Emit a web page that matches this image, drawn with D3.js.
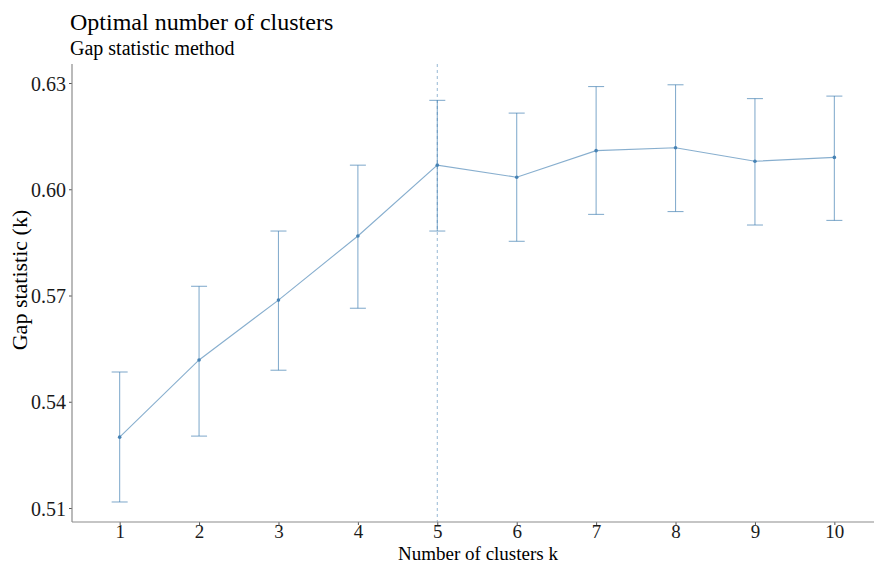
<!DOCTYPE html>
<html>
<head>
<meta charset="utf-8">
<script src="https://cdn.jsdelivr.net/npm/d3@7"></script>
<style>
  body { margin: 0; background: #fff; }
  svg { display: block; font-family: "Liberation Serif", "Times New Roman", serif; }
</style>
</head>
<body>
<svg id="chart" width="874" height="564"></svg>
<script>
// Gap statistic per number of clusters, with standard-error bounds
const clusters = [1, 2, 3, 4, 5, 6, 7, 8, 9, 10];
const gap      = [0.5300, 0.5518, 0.5687, 0.5868, 0.6068, 0.6034, 0.6109, 0.6117, 0.6079, 0.6090];
const gapLow   = [0.5117, 0.5303, 0.5489, 0.5664, 0.5882, 0.5853, 0.5929, 0.5937, 0.5899, 0.5912];
const gapHigh  = [0.5484, 0.5726, 0.5882, 0.6068, 0.6251, 0.6215, 0.6290, 0.6295, 0.6256, 0.6263];
const yTicks   = [0.51, 0.54, 0.57, 0.60, 0.63];
const optimalK = 5;

const svg = d3.select("#chart");
const color = "#4682B4";

const x = d3.scaleLinear().domain([0.4, 10.6]).range([72, 882]);
const y = d3.scaleLinear().domain([0.51, 0.63]).range([508, 83]);
const panelTop = 64, panelBottom = 522;

// Titles
svg.append("text").attr("x", 70).attr("y", 30)
  .attr("font-size", 24).attr("fill", "#000").text("Optimal number of clusters");
svg.append("text").attr("x", 70).attr("y", 55)
  .attr("font-size", 20).attr("fill", "#000").text("Gap statistic method");

// Optimal k marker
svg.append("line")
  .attr("x1", x(optimalK)).attr("x2", x(optimalK))
  .attr("y1", panelTop).attr("y2", panelBottom)
  .attr("stroke", color).attr("stroke-opacity", 0.7)
  .attr("stroke-width", 0.8).attr("stroke-dasharray", "3,3");

// Error bars
const capHalf = 8;
const bars = svg.append("g").attr("stroke", color).attr("stroke-opacity", 0.65).attr("stroke-width", 1.1);
clusters.forEach((k, i) => {
  const cx = x(k);
  bars.append("line").attr("x1", cx).attr("x2", cx).attr("y1", y(gapLow[i])).attr("y2", y(gapHigh[i]));
  bars.append("line").attr("x1", cx - capHalf).attr("x2", cx + capHalf).attr("y1", y(gapLow[i])).attr("y2", y(gapLow[i]));
  bars.append("line").attr("x1", cx - capHalf).attr("x2", cx + capHalf).attr("y1", y(gapHigh[i])).attr("y2", y(gapHigh[i]));
});

// Gap line and points
const line = d3.line().x((d, i) => x(clusters[i])).y(d => y(d));
svg.append("path").datum(gap).attr("d", line)
  .attr("fill", "none").attr("stroke", color).attr("stroke-opacity", 0.65).attr("stroke-width", 1.1);
svg.selectAll("circle.pt").data(gap).join("circle").attr("class", "pt")
  .attr("cx", (d, i) => x(clusters[i])).attr("cy", d => y(d)).attr("r", 1.8)
  .attr("fill", color);

// Axes
const axisColor = "#8c8c8c";
const yAxis = svg.append("g").attr("transform", "translate(72,0)")
  .call(d3.axisLeft(y).tickValues(yTicks).tickFormat(d3.format(".2f")).tickSize(3).tickSizeOuter(0));
yAxis.select(".domain").remove();
svg.append("line").attr("x1", 72).attr("x2", 72).attr("y1", panelTop).attr("y2", panelBottom)
  .attr("stroke", axisColor).attr("stroke-width", 1.2);

const xAxis = svg.append("g").attr("transform", `translate(0,${panelBottom})`)
  .call(d3.axisBottom(x).tickValues(clusters).tickFormat(d3.format("d")).tickSize(3).tickSizeOuter(0));
xAxis.select(".domain").remove();
svg.append("line").attr("x1", 72).attr("x2", 874).attr("y1", panelBottom).attr("y2", panelBottom)
  .attr("stroke", axisColor).attr("stroke-width", 1.2);

[yAxis, xAxis].forEach(g => {
  g.selectAll(".tick line").attr("stroke", "#555");
  g.selectAll(".tick text").attr("font-family", "Liberation Serif, serif")
    .attr("font-size", 20).attr("fill", "#1a1a1a");
});
yAxis.selectAll(".tick text").attr("x", -6).attr("dy", "0.35em");
xAxis.selectAll(".tick text").attr("font-size", 19).attr("y", 2.5).attr("dy", "0.71em");

// Axis titles
svg.append("text").attr("x", 478).attr("y", 559.5).attr("text-anchor", "middle")
  .attr("font-size", 19).attr("fill", "#000").text("Number of clusters k");
svg.append("text").attr("transform", "translate(27,280) rotate(-90)").attr("text-anchor", "middle")
  .attr("font-size", 22).attr("fill", "#000").text("Gap statistic (k)");
</script>
</body>
</html>
